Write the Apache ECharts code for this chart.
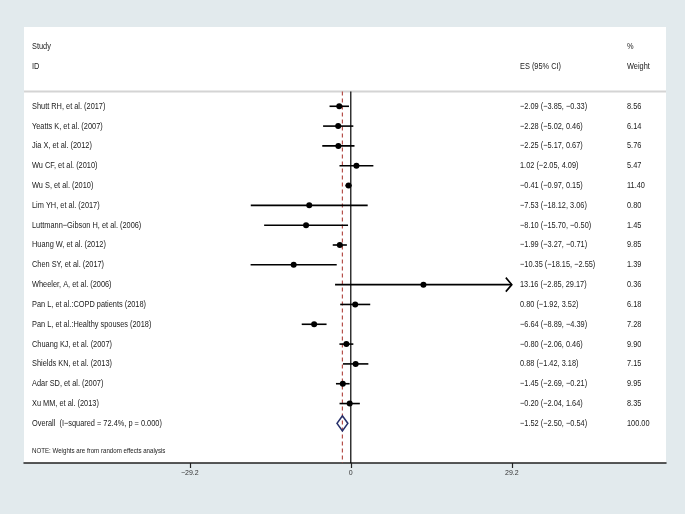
<!DOCTYPE html>
<html>
<head>
<meta charset="utf-8">
<script src="https://cdn.jsdelivr.net/npm/echarts@6/dist/echarts.min.js"></script>
<style>
html, body { margin: 0; padding: 0; background: #e2eaed; }
#main { width: 685px; height: 514px; }
</style>
</head>
<body>
<div id="main"></div>
<script>
// forest plot data
var studies = [
    'Shutt RH, et al. (2017)', 'Yeatts K, et al. (2007)', 'Jia X, et al. (2012)', 'Wu CF, et al. (2010)',
    'Wu S, et al. (2010)', 'Lim YH, et al. (2017)', 'Luttmann\u2212Gibson H, et al. (2006)', 'Huang W, et al. (2012)',
    'Chen SY, et al. (2017)', 'Wheeler, A, et al. (2006)', 'Pan L, et al.:COPD patients (2018)',
    'Pan L, et al.:Healthy spouses (2018)', 'Chuang KJ, et al. (2007)', 'Shields KN, et al. (2013)',
    'Adar SD, et al. (2007)', 'Xu MM, et al. (2013)'
];
var es = [-2.09, -2.28, -2.25, 1.02, -0.41, -7.53, -8.10, -1.99, -10.35, 13.16, 0.80, -6.64, -0.80, 0.88, -1.45, -0.20];
var lo = [-3.85, -5.02, -5.17, -2.05, -0.97, -18.12, -15.70, -3.27, -18.15, -2.85, -1.92, -8.89, -2.06, -1.42, -2.69, -2.04];
var hi = [-0.33, 0.46, 0.67, 4.09, 0.15, 3.06, -0.50, -0.71, -2.55, 29.17, 3.52, -4.39, 0.46, 3.18, -0.21, 1.64];
var weight = [8.56, 6.14, 5.76, 5.47, 11.40, 0.80, 1.45, 9.85, 1.39, 0.36, 6.18, 7.28, 9.90, 7.15, 9.95, 8.35];

var overallLabel = 'Overall  (I\u2212squared = 72.4%, p = 0.000)';
var overallEs = -1.52, overallLo = -2.50, overallHi = -0.54, overallWeight = 100.00;
var noteText = 'NOTE: Weights are from random effects analysis';

var xRange = Math.max.apply(null, lo.concat(hi).map(Math.abs));
var font = '"Liberation Sans", Arial, sans-serif';
var colText = 8, colEs = 496, colW = 603;

function fmt(v) { return v.toFixed(2).replace('-', '\u2212'); }
function ci(e, l, h) { return fmt(e) + ' (' + fmt(l) + ', ' + fmt(h) + ')'; }
// the original font is narrow, squeeze a regular sans to match
function txt(x, y, s, size, sx) {
    return { type: 'text', x: x, y: y, scaleX: sx || 0.82,
        style: { text: s, fill: '#1a1a1a', font: (size || 9) + 'px ' + font, verticalAlign: 'middle' } };
}

var myChart = echarts.init(document.getElementById('main'));
var option = {
    backgroundColor: '#e2eaed',
    animation: false,
    grid: { left: 24, right: 19, top: 27, bottom: 51, show: true, backgroundColor: '#fff', borderWidth: 0 },
    xAxis: {
        type: 'value', min: -59.2, max: 57.1,
        splitLine: { show: false },
        axisLine: { onZero: false, lineStyle: { color: '#222', width: 1.5 } },
        axisTick: { customValues: [-xRange, 0, xRange], length: 5, lineStyle: { color: '#222', width: 1.2 } },
        axisLabel: {
            customValues: [-xRange, 0, xRange], fontSize: 7, color: '#333', margin: 7, fontFamily: font,
            formatter: function (v) { return v === 0 ? '0' : (v < 0 ? '\u2212' : '') + Math.abs(v).toFixed(1); }
        }
    },
    yAxis: { type: 'value', inverse: true, min: -4, max: 18, show: false },
    series: [
        {
            // header, separator, reference lines
            type: 'custom', clip: false, data: [[0, 0]],
            renderItem: function (params, api) {
                var cs = params.coordSys;
                var ySep = api.coord([0, -0.75])[1], yBot = api.coord([0, 18])[1];
                var x0 = api.coord([0, 0])[0], xo = api.coord([overallEs, 0])[0];
                var h1 = api.coord([0, -3])[1], h2 = api.coord([0, -2])[1];
                return { type: 'group', children: [
                    { type: 'line', shape: { x1: cs.x, y1: ySep, x2: cs.x + cs.width, y2: ySep }, style: { stroke: '#d4d4d4', lineWidth: 2 } },
                    { type: 'line', shape: { x1: x0, y1: ySep, x2: x0, y2: yBot }, style: { stroke: '#000', lineWidth: 1.2 } },
                    { type: 'line', shape: { x1: xo, y1: ySep, x2: xo, y2: yBot }, style: { stroke: '#b5504a', lineWidth: 1.2, lineDash: [4, 3] } },
                    txt(cs.x + colText, h1, 'Study'), txt(cs.x + colText, h2, 'ID'),
                    txt(cs.x + colEs, h2, 'ES (95% CI)'),
                    txt(cs.x + colW, h1, '%'), txt(cs.x + colW, h2, 'Weight'),
                    txt(cs.x + colText, api.coord([0, 17.4])[1], noteText, 7.5)
                ] };
            }
        },
        {
            type: 'custom', clip: false,
            encode: { x: 1, y: 0 },
            data: studies.map(function (s, i) { return [i, es[i], lo[i], hi[i]]; }),
            renderItem: function (params, api) {
                var cs = params.coordSys, i = params.dataIndex;
                var row = api.value(0), e = api.value(1), l = api.value(2), h = api.value(3);
                var y = api.coord([0, row])[1];
                var x1 = api.coord([Math.max(l, -xRange), row])[0];
                var x2 = api.coord([Math.min(h, xRange), row])[0];
                var xe = api.coord([e, row])[0];
                var ch = [
                    { type: 'line', shape: { x1: x1, y1: y, x2: x2, y2: y }, style: { stroke: '#000', lineWidth: 1.6 } },
                    { type: 'circle', shape: { cx: xe, cy: y, r: 3 }, style: { fill: '#000' } },
                    txt(cs.x + colText, y, studies[i]),
                    txt(cs.x + colEs, y, ci(e, l, h)),
                    txt(cs.x + colW, y, weight[i].toFixed(2))
                ];
                if (h >= xRange) {
                    ch.push({ type: 'polyline', shape: { points: [[x2 - 6, y - 7], [x2, y], [x2 - 6, y + 7]] }, style: { stroke: '#000', fill: null, lineWidth: 1.6 } });
                }
                if (l <= -xRange) {
                    ch.push({ type: 'polyline', shape: { points: [[x1 + 6, y - 7], [x1, y], [x1 + 6, y + 7]] }, style: { stroke: '#000', fill: null, lineWidth: 1.6 } });
                }
                return { type: 'group', children: ch };
            }
        },
        {
            type: 'custom', clip: false,
            encode: { x: 1, y: 0 },
            data: [[16, overallEs, overallLo, overallHi]],
            renderItem: function (params, api) {
                var cs = params.coordSys;
                var row = api.value(0);
                var y = api.coord([0, row])[1];
                var xl = api.coord([api.value(2), row])[0], xr = api.coord([api.value(3), row])[0];
                var xe = api.coord([api.value(1), row])[0];
                return { type: 'group', children: [
                    { type: 'polygon', shape: { points: [[xl, y], [xe, y - 7.5], [xr, y], [xe, y + 7.5]] }, style: { stroke: '#27306b', fill: null, lineWidth: 1.6 } },
                    txt(cs.x + colText, y, overallLabel),
                    txt(cs.x + colEs, y, ci(overallEs, overallLo, overallHi)),
                    txt(cs.x + colW, y, overallWeight.toFixed(2))
                ] };
            }
        }
    ]
};

myChart.setOption(option);
window.onresize = myChart.resize;
</script>
</body>
</html>
